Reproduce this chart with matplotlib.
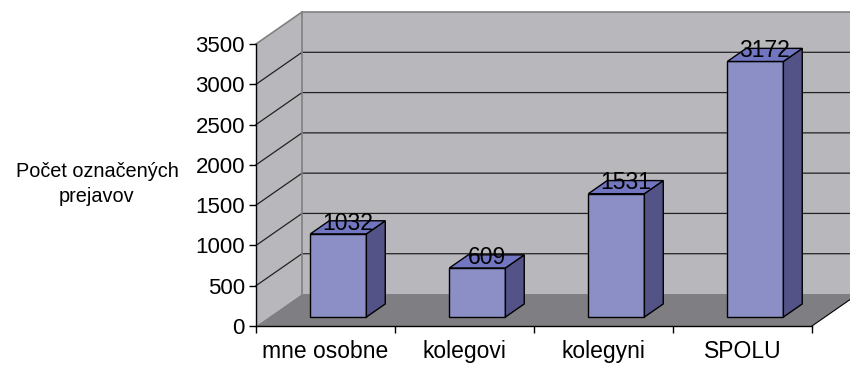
import matplotlib
matplotlib.use("Agg")
import matplotlib.pyplot as plt
from matplotlib.patches import Polygon

plt.rcParams["font.family"] = ["Liberation Sans", "DejaVu Sans"]

categories = ["mne osobne", "kolegovi", "kolegyni", "SPOLU"]
counts = [1032, 609, 1531, 3172]
yticks = [0, 500, 1000, 1500, 2000, 2500, 3000, 3500]
ylabel = "Počet označených\nprejavov"

# 3D look: full depth offset (x in category units, y in value units)
DX, DY = 0.331, 397
BAR_W = 0.403
F0, F1 = 0.28, 0.69  # bar front/back as fraction of the full depth

WALL = "#b8b8bc"
FLOOR = "#7f7f83"
FRONT, SIDE, TOP = "#8b8fc6", "#535388", "#7276c0"

fig = plt.figure(figsize=(8.5, 3.65), dpi=100)
ax = fig.add_axes([256 / 850, 39 / 365, 556 / 850, 282 / 365])
n = len(categories)
ymax = yticks[-1]
ax.set_xlim(0, n)
ax.set_ylim(0, ymax)


def poly(pts, fc, ec="none", lw=0.0, z=1):
    ax.add_patch(Polygon(pts, closed=True, facecolor=fc, edgecolor=ec,
                         linewidth=lw, zorder=z, clip_on=False))


# walls and floor
poly([(DX, DY), (n + DX, DY), (n + DX, ymax + DY), (DX, ymax + DY)], WALL)
poly([(0, 0), (DX, DY), (DX, ymax + DY), (0, ymax)], WALL)
poly([(0, 0), (n, 0), (n + DX, DY), (DX, DY)], FLOOR)

for v in yticks[1:-1]:
    ax.plot([0, DX, n + DX], [v, v + DY, v + DY], color="#222222",
            lw=0.9, zorder=1.2, clip_on=False)
ax.plot([0, DX, n + DX], [ymax, ymax + DY, ymax + DY], color="#808080",
        lw=1.2, zorder=1.2, clip_on=False)
ax.plot([DX, DX], [DY, ymax + DY], color="#808080", lw=1.2, zorder=1.2,
        clip_on=False)
ax.plot([n, n + DX], [0, DY], color="black", lw=0.8, zorder=1.2,
        clip_on=False)

# bars
for i, v in enumerate(counts):
    x0 = i + 0.5 - BAR_W / 2 + F0 * DX
    x1 = x0 + BAR_W
    y0 = F0 * DY
    ddx, ddy = (F1 - F0) * DX, (F1 - F0) * DY
    poly([(x0, y0), (x1, y0), (x1, y0 + v), (x0, y0 + v)], FRONT, "black", 1.0, 3)
    poly([(x1, y0), (x1 + ddx, y0 + ddy), (x1 + ddx, y0 + v + ddy),
          (x1, y0 + v)], SIDE, "black", 1.0, 3)
    poly([(x0, y0 + v), (x1, y0 + v), (x1 + ddx, y0 + v + ddy),
          (x0 + ddx, y0 + v + ddy)], TOP, "black", 1.0, 3)
    ax.annotate(str(v), ((x0 + x1) / 2 + ddx / 2, y0 + v + ddy / 2),
                xytext=(0, 3), textcoords="offset points", ha="center",
                va="center", fontsize=16.5, zorder=4, annotation_clip=False)

# axes
for s in ("top", "right"):
    ax.spines[s].set_visible(False)
ax.spines["left"].set_linewidth(1.0)
ax.spines["bottom"].set_linewidth(1.0)
ax.spines["left"].set_zorder(2)
ax.spines["bottom"].set_zorder(2)
ax.set_yticks(yticks)
ax.tick_params(axis="y", length=5, width=1, pad=3, labelsize=16)
ax.set_xticks(range(n + 1))
ax.set_xticklabels([])
ax.set_xticks([i + 0.5 for i in range(n)], minor=True)
ax.set_xticklabels(categories, minor=True)
ax.tick_params(axis="x", which="major", length=5, width=1)
ax.tick_params(axis="x", which="minor", length=0, pad=10, labelsize=16.5)

fig.text(97 / 850, 1 - 184 / 365, ylabel, ha="center", va="center",
         fontsize=14.3, linespacing=1.45)

fig.savefig("out.png", dpi=100)
